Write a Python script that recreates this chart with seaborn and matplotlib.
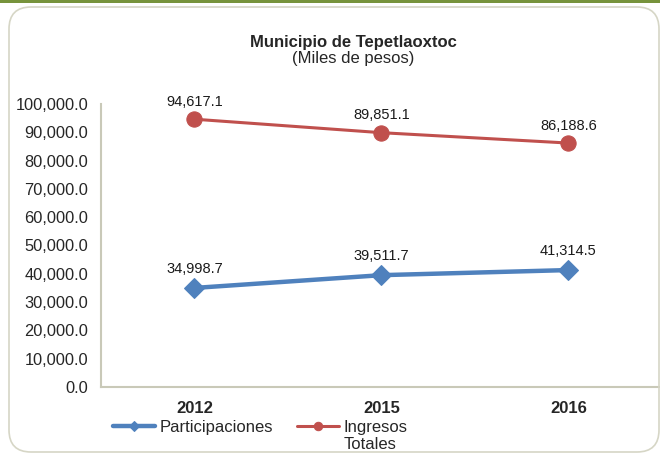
import numpy as np
import pandas as pd
import matplotlib
matplotlib.use("Agg")
import matplotlib.pyplot as plt
import seaborn as sns
from matplotlib.patches import FancyBboxPatch, Rectangle
from matplotlib.transforms import IdentityTransform
from matplotlib.ticker import FuncFormatter

years = ["2012", "2015", "2016"]
participaciones = [34998.7, 39511.7, 41314.5]
ingresos_totales = [94617.1, 89851.1, 86188.6]
y_ticks = [0, 10000, 20000, 30000, 40000, 50000, 60000, 70000, 80000, 90000, 100000]

BLUE = "#4F81BD"
RED = "#C0504D"
SPINE = "#C9C9B8"

sns.set_style("white")
plt.rcParams["font.family"] = ["Liberation Sans", "DejaVu Sans"]

df_p = pd.DataFrame({"year": years, "value": participaciones})
df_i = pd.DataFrame({"year": years, "value": ingresos_totales})

fig = plt.figure(figsize=(6.6, 4.54), dpi=100)

# rounded frame and green top band
fig.patches.append(FancyBboxPatch((9, 2), 650, 445, boxstyle="round,pad=0,rounding_size=22",
                                  transform=IdentityTransform(), fill=False,
                                  edgecolor="#D6D6C6", linewidth=1.2, figure=fig))
fig.patches.append(Rectangle((0, 451), 660, 3, transform=IdentityTransform(),
                             facecolor="#77933C", edgecolor="none", figure=fig))

ax = fig.add_axes([0.153, 0.1476, 0.85, 0.6234])

sns.lineplot(data=df_p, x="year", y="value", ax=ax, color=BLUE, linewidth=3.2,
             marker="D", markersize=10, markeredgecolor=BLUE, label="Participaciones")
sns.lineplot(data=df_i, x="year", y="value", ax=ax, color=RED, linewidth=2.2,
             marker="o", markersize=11, markeredgecolor=RED, label="Ingresos")

for i, v in enumerate(participaciones):
    ax.annotate(f"{v:,.1f}", (i, v), xytext=(0, 13.5), textcoords="offset points",
                ha="center", va="center", fontsize=10.5, color="#1a1a1a")
for i, v in enumerate(ingresos_totales):
    ax.annotate(f"{v:,.1f}", (i, v), xytext=(0, 12.5), textcoords="offset points",
                ha="center", va="center", fontsize=10.5, color="#1a1a1a")

ax.set_xlim(-0.5, 2.5)
ax.set_ylim(0, 100000)
ax.set_yticks(y_ticks)
ax.yaxis.set_major_formatter(FuncFormatter(lambda v, p: f"{v:,.1f}"))
ax.set_xticks([0, 1, 2])
ax.set_xticklabels(years, fontweight="bold", fontsize=12)
ax.set_xticks([0.5, 1.5], minor=True)
ax.tick_params(axis="x", which="major", length=0, pad=10)
ax.tick_params(axis="x", which="minor", length=5, direction="out", color=SPINE, width=1)
ax.tick_params(axis="y", length=5, direction="out", color=SPINE, width=1, labelsize=11.8, pad=4)
ax.set_xlabel("")
ax.set_ylabel("")

for s in ["top", "right"]:
    ax.spines[s].set_visible(False)
for s in ["left", "bottom"]:
    ax.spines[s].set_color(SPINE)
    ax.spines[s].set_linewidth(1.5)

ax.get_legend().remove()
handles, labels = ax.get_legend_handles_labels()
leg = fig.legend(handles, labels, loc="center left", bbox_to_anchor=(0.171, 0.058), ncol=2,
                 frameon=False, fontsize=12, handlelength=2.5, columnspacing=1.45,
                 handletextpad=0.3, borderaxespad=0, borderpad=0, markerscale=0.55)

fig.text(0.536, 0.907, "Municipio de Tepetlaoxtoc", ha="center", va="center",
         fontsize=12, fontweight="bold")
fig.text(0.535, 0.872, "(Miles de pesos)", ha="center", va="center", fontsize=12)

# second line of the "Ingresos Totales" legend entry, under its first line
fig.canvas.draw()
bb = leg.get_texts()[1].get_window_extent(fig.canvas.get_renderer())
fig.text(bb.x0, bb.y0 - 2, "Totales", ha="left", va="top", fontsize=12,
         transform=IdentityTransform())

fig.savefig("out.png", dpi=100)
